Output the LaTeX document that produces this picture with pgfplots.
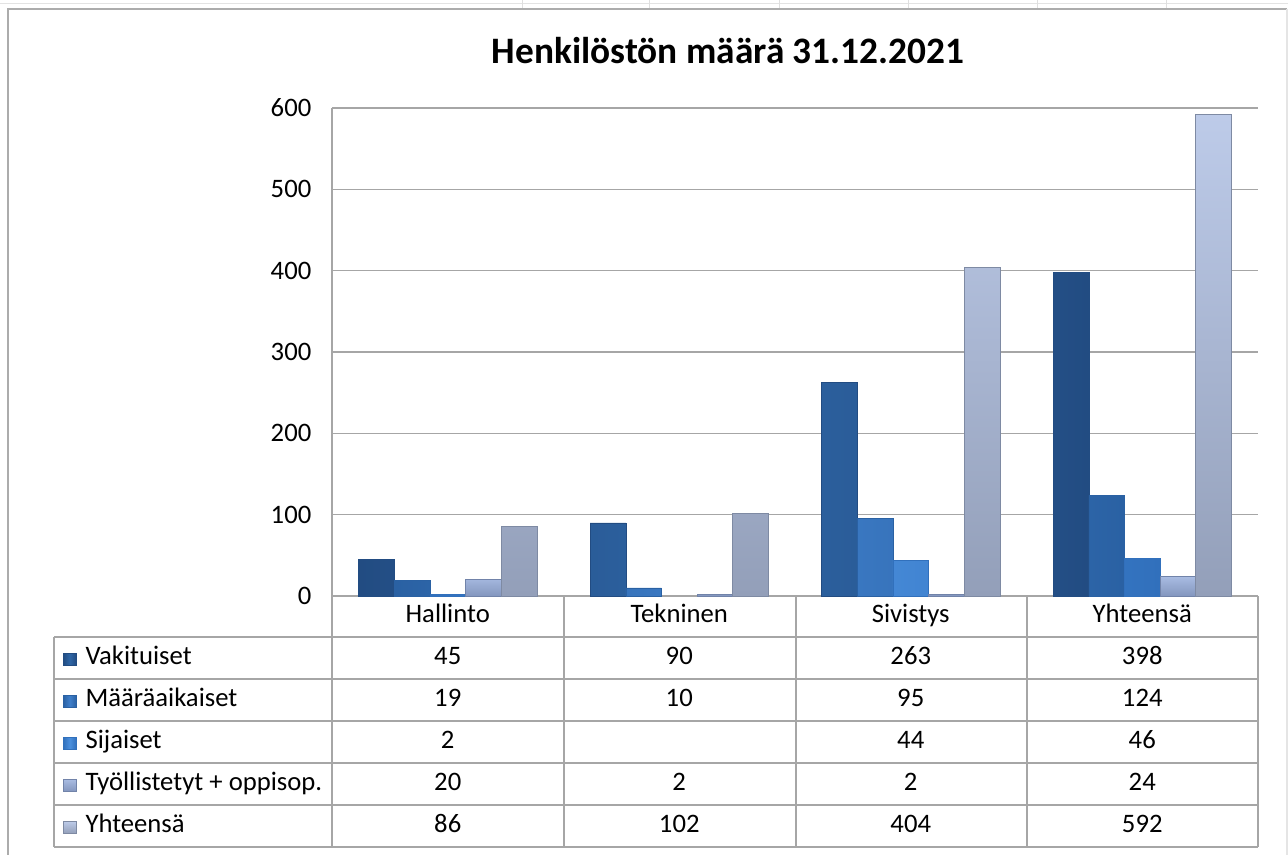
\documentclass[border=0pt]{standalone}
\usepackage{fontspec}
\setmainfont{Carlito}
\usepackage{pgfplots}
\pgfplotsset{compat=1.18}
\definecolor{gridc}{HTML}{A6A6A6}
\definecolor{vakE}{HTML}{224C82}
\definecolor{vakM}{HTML}{2F66A6}
\definecolor{maaE}{HTML}{2A61A3}
\definecolor{maaM}{HTML}{3F7FCB}
\definecolor{sijE}{HTML}{3170BC}
\definecolor{sijM}{HTML}{4B90DE}
\definecolor{tyoT}{HTML}{A9BCE2}
\definecolor{tyoB}{HTML}{8396BE}
\definecolor{tyoE}{HTML}{7183A9}
\definecolor{yhtT}{HTML}{BDCBE9}
\definecolor{yhtB}{HTML}{939FB9}
\definecolor{yhtE}{HTML}{7E8AA3}
\newcommand\bodyfont{\fontsize{20}{24}\selectfont}
\begin{document}
\begin{tikzpicture}
\useasboundingbox (0,0) rectangle (966pt,-640.5pt);
\begin{scope}[x=0.75pt,y=-0.75pt]
  \draw[gray!22, line width=0.75pt] (0,3) -- (1288,3);
  \foreach \xx in {522,649,779,908,1037,1166} \draw[gray!25, line width=0.75pt] (\xx,0) -- (\xx,8);
  \draw[gray!65, line width=1.5pt] (8,880) -- (8,9) -- (1287,9);
  \draw[gray!20, line width=1pt] (1287,9) -- (1287,880);
  \node[font=\fontsize{28}{34}\selectfont\bfseries, anchor=base, inner sep=0pt] at (728,63) {Henkilöstön määrä 31.12.2021};
\end{scope}
\begin{axis}[
  at={(249pt,-447pt)}, anchor=south west,
  scale only axis, width=694.5pt, height=366pt,
  xmin=-0.5, xmax=3.5, ymin=0, ymax=600,
  ytick={0,100,...,600},
  xtick={0,1,2,3},
  xticklabels={Hallinto,Tekninen,Sivistys,Yhteensä},
  major tick length=0pt,
  ymajorgrids,
  grid style={gridc, line width=1.1pt},
  axis x line*=bottom, axis y line*=left,
  axis line style={gridc, line width=1.1pt, -},
  clip=false,
  tick label style={font=\bodyfont},
  /pgf/number format/assume math mode=true,
  yticklabel style={anchor=east, xshift=-12pt},
  xticklabel style={anchor=center, text height=0.63em, text depth=0pt, yshift=-16.5pt},
  legend style={at={(axis description cs:-0.2905,-0.0840)}, anchor=north west,
    draw=none, fill=none, inner sep=0pt, outer sep=0pt, row sep=0pt,
    font=\bodyfont,
    nodes={inner sep=0pt, minimum height=31.5pt, text height=0.63em+3pt, text depth=0pt, anchor=west}},
  legend cell align=left,
  legend image code/.code={\fill[#1] (0pt,-5.5pt) rectangle (9.75pt,3.5pt); \path (16.5pt,0pt);},
  nodes near coords style={font=\bodyfont, anchor=center, text height=0.63em, text depth=0pt, yshift=-1.5pt},
]
\addplot[ybar, bar width=0.15385, bar shift=-0.30769, draw=vakE, line width=0.4pt,
  left color=vakE, right color=vakE, middle color=vakM]
  coordinates {(0,45) (1,90) (2,263) (3,398)};
\addlegendentry{Vakituiset}
\addplot[ybar, bar width=0.15385, bar shift=-0.15385, draw=maaE, line width=0.4pt,
  left color=maaE, right color=maaE, middle color=maaM]
  coordinates {(0,19) (1,10) (2,95) (3,124)};
\addlegendentry{Määräaikaiset}
\addplot[ybar, bar width=0.15385, bar shift=0, draw=sijE, line width=0.4pt,
  left color=sijE, right color=sijE, middle color=sijM]
  coordinates {(0,2) (2,44) (3,46)};
\addlegendentry{Sijaiset}
\addplot[ybar, bar width=0.15385, bar shift=0.15385, draw=tyoE, line width=0.4pt,
  top color=tyoT, bottom color=tyoB]
  coordinates {(0,20) (1,2) (2,2) (3,24)};
\addlegendentry{Työllistetyt + oppisop.}
\addplot[ybar, bar width=0.15385, bar shift=0.30769, draw=yhtE, line width=0.4pt,
  top color=yhtT, bottom color=yhtB]
  coordinates {(0,86) (1,102) (2,404) (3,592)};
\addlegendentry{Yhteensä}
% data table rows (values printed in the table under the chart)
\addplot[forget plot, draw=none, mark=none, nodes near coords, point meta=explicit symbolic, nodes near coords align={anchor=center}]
  coordinates {(0,-76.23)[45] (1,-76.23)[90] (2,-76.23)[263] (3,-76.23)[398]};
\addplot[forget plot, draw=none, mark=none, nodes near coords, point meta=explicit symbolic, nodes near coords align={anchor=center}]
  coordinates {(0,-127.87)[19] (1,-127.87)[10] (2,-127.87)[95] (3,-127.87)[124]};
\addplot[forget plot, draw=none, mark=none, nodes near coords, point meta=explicit symbolic, nodes near coords align={anchor=center}]
  coordinates {(0,-179.51)[2] (2,-179.51)[44] (3,-179.51)[46]};
\addplot[forget plot, draw=none, mark=none, nodes near coords, point meta=explicit symbolic, nodes near coords align={anchor=center}]
  coordinates {(0,-231.15)[20] (1,-231.15)[2] (2,-231.15)[2] (3,-231.15)[24]};
\addplot[forget plot, draw=none, mark=none, nodes near coords, point meta=explicit symbolic, nodes near coords align={anchor=center}]
  coordinates {(0,-282.79)[86] (1,-282.79)[102] (2,-282.79)[404] (3,-282.79)[592]};
\end{axis}
\begin{scope}[x=0.75pt,y=-0.75pt, gridc, line width=1.1pt]
  \foreach \yy in {637,679,721,763,805,847} \draw (54,\yy) -- (1258,\yy);
  \draw (54,637) -- (54,847);
  \foreach \xx in {332,564,796,1027,1258} \draw (\xx,596) -- (\xx,847);
\end{scope}
\end{tikzpicture}
\end{document}
